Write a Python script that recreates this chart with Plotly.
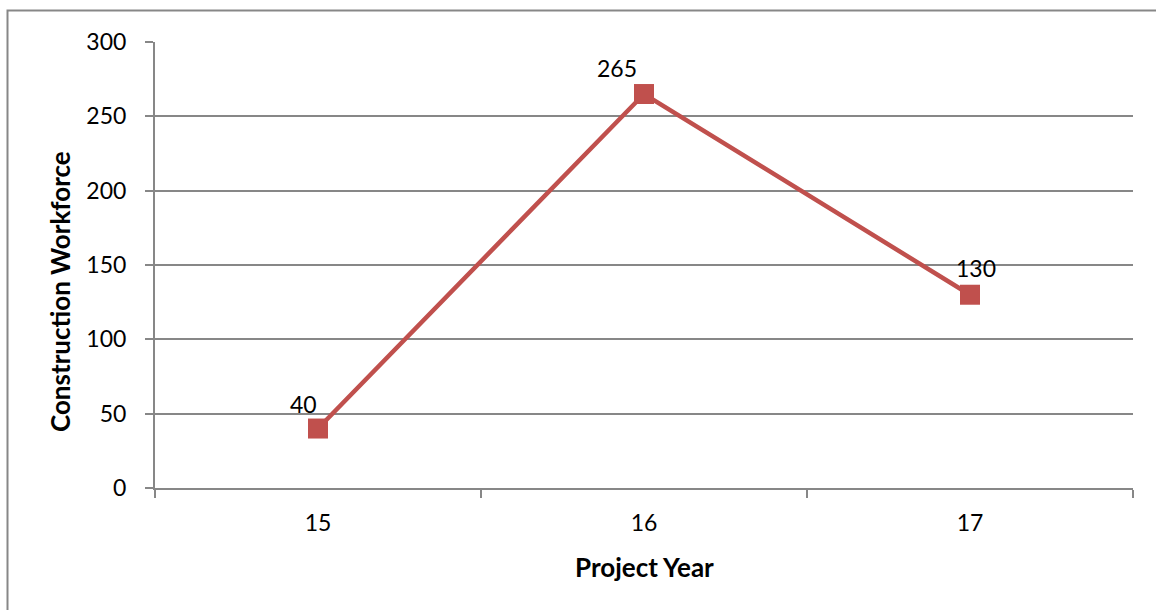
import plotly.graph_objects as go

years = ["15", "16", "17"]
workforce = [40, 265, 130]
y_ticks = [0, 50, 100, 150, 200, 250, 300]
x_title = "Project Year"
y_title = "Construction Workforce"

LINE_COLOR = "#C0504D"
GRID = "#878787"
FONT = "Lato"

W, H = 1156, 610
L, R, T, B = 155, 23, 42, 122
pw, ph = W - L - R, H - T - B

def px(x):
    return (x - L) / pw

def py(y):
    return (H - B - y) / ph

fig = go.Figure()
fig.add_trace(go.Scatter(
    x=years, y=workforce, mode="lines+markers",
    line=dict(color=LINE_COLOR, width=4.5),
    marker=dict(symbol="square", size=20, color=LINE_COLOR),
    hoverinfo="skip", showlegend=False,
))

offsets = [(-15, 25), (-27, 26), (6, 27)]
for i, (yv, (dx, dy)) in enumerate(zip(workforce, offsets)):
    fig.add_annotation(x=i, y=yv, xref="x", yref="y", text=str(yv),
                       showarrow=False, xshift=dx, yshift=dy,
                       xanchor="center", yanchor="middle",
                       font=dict(family=FONT, size=23, color="#000000"))

fig.add_annotation(xref="paper", yref="paper", x=px(644), y=py(567),
                   xanchor="center", yanchor="middle",
                   text=f"<b>{x_title}</b>", showarrow=False,
                   font=dict(family=FONT, size=26, color="#000000"))
fig.add_annotation(xref="paper", yref="paper", x=px(60), y=py(292),
                   xanchor="center", yanchor="middle",
                   text=f"<b>{y_title}</b>", showarrow=False, textangle=-90,
                   font=dict(family=FONT, size=26, color="#000000"))

# outer chart border
fig.add_shape(type="rect", xref="paper", yref="paper",
              x0=px(7.5), x1=px(1200), y0=py(10.5), y1=py(700),
              line=dict(color=GRID, width=2), layer="below")

fig.update_layout(
    width=W, height=H,
    margin=dict(l=L, r=R, t=T, b=B, pad=0),
    paper_bgcolor="white", plot_bgcolor="white",
    font=dict(family=FONT, size=23, color="#000000"),
)
fig.update_xaxes(
    type="category", range=[-0.5, 2.5], tickson="boundaries",
    ticks="outside", ticklen=8, tickwidth=2, tickcolor=GRID,
    showline=True, linecolor=GRID, linewidth=2,
    showgrid=False, zeroline=False, ticklabelstandoff=13,
    tickfont=dict(family=FONT, size=23),
)
fig.update_yaxes(
    range=[0, 300], tickvals=y_ticks,
    ticks="outside", ticklen=8, tickwidth=2, tickcolor=GRID,
    showline=True, linecolor=GRID, linewidth=2,
    showgrid=True, gridcolor=GRID, gridwidth=1.5, zeroline=False,
    ticklabelstandoff=14,
    tickfont=dict(family=FONT, size=23),
)

fig.write_html("out.html")
